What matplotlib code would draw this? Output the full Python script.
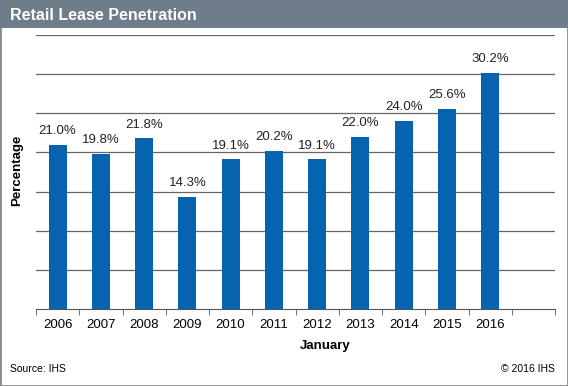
import matplotlib.pyplot as plt
from matplotlib.patches import Rectangle

years = ['2006', '2007', '2008', '2009', '2010', '2011', '2012', '2013', '2014', '2015', '2016']
penetration = [21.0, 19.8, 21.8, 14.3, 19.1, 20.2, 19.1, 22.0, 24.0, 25.6, 30.2]

plt.rcParams['font.family'] = ['Liberation Sans', 'DejaVu Sans']

fig = plt.figure(figsize=(5.68, 3.86), dpi=100)
W, H = 568, 386

# grey frame and title bar
fig.patches.append(Rectangle((0, 0), 1, 1, transform=fig.transFigure, fill=False,
                             edgecolor='#8a8a8a', linewidth=2))
fig.patches.append(Rectangle((0, 1 - 28 / H), 1, 28 / H, transform=fig.transFigure,
                             facecolor='#6f7c8a', edgecolor='none'))
fig.text(10 / W, 1 - 15 / H, 'Retail Lease Penetration', color='white', fontsize=11.5,
         fontweight='bold', va='center', ha='left')

ax = fig.add_axes([36 / W, 1 - 309 / H, (555 - 36) / W, (309 - 35) / H])
x = range(len(years))
ax.bar(x, penetration, width=0.42, color='#0563b0', zorder=3)
for i, v in zip(x, penetration):
    ax.text(i, v + 1.0, f'{v:.1f}%', ha='center', va='bottom', fontsize=9.5, color='#222222')

ax.set_xlim(-0.5, len(years) + 0.5)
ax.set_ylim(0, 35)
ax.set_yticks(range(5, 36, 5))
ax.yaxis.grid(True, color='#666666', linewidth=0.9, zorder=0)
ax.tick_params(axis='y', left=False, labelleft=False)

ax.set_xticks(list(x))
ax.set_xticklabels(years, fontsize=9.5)
ax.set_xticks([i - 0.5 for i in range(len(years) + 2)], minor=True)
ax.tick_params(axis='x', which='major', length=0, pad=7)
ax.tick_params(axis='x', which='minor', length=4, color='#555555', direction='out')

for s in ['top', 'right', 'left']:
    ax.spines[s].set_visible(False)
ax.spines['bottom'].set_color('#555555')

fig.text(17 / W, 1 - 170 / H, 'Percentage', rotation=90, fontsize=9.5, fontweight='bold',
         ha='center', va='center')
fig.text(325 / W, 1 - 346 / H, 'January', fontsize=9.5, fontweight='bold',
         ha='center', va='center')
fig.text(10 / W, 1 - 369 / H, 'Source: IHS', fontsize=7.5, ha='left', va='center')
fig.text(555 / W, 1 - 369 / H, '\u00a9 2016 IHS', fontsize=7.5, ha='right', va='center')

fig.savefig('out.png', dpi=100)
